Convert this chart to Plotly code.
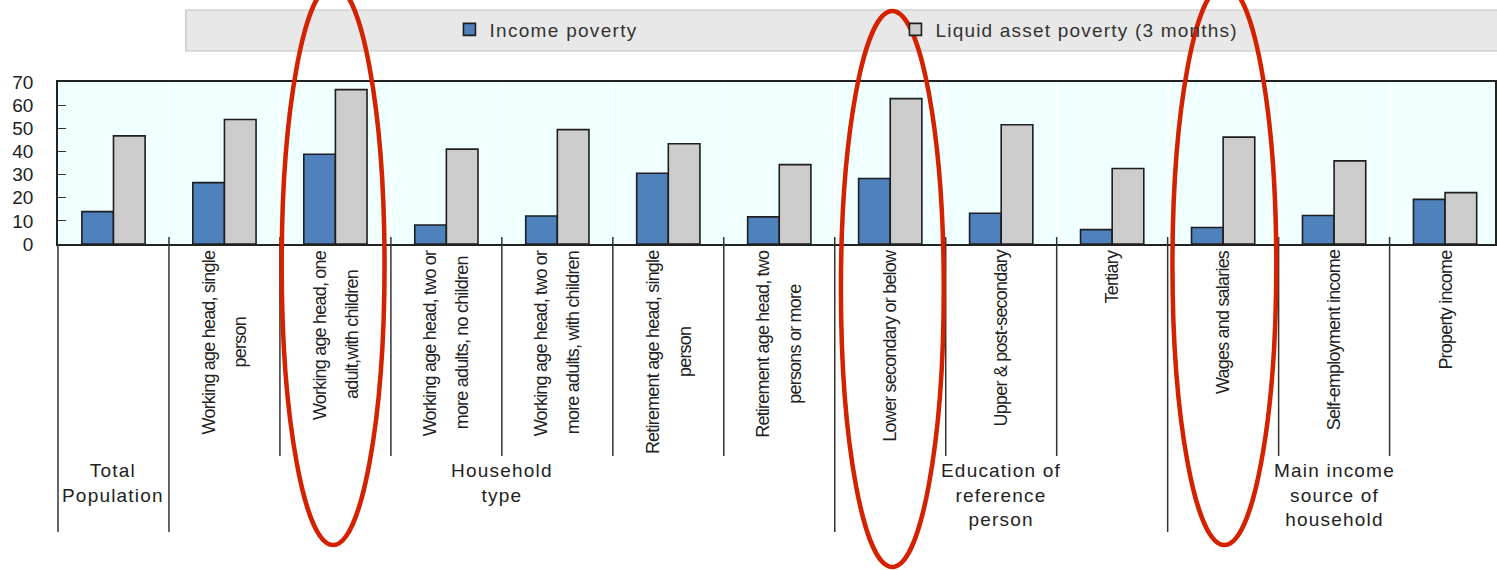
import plotly.graph_objects as go

# ---- data -------------------------------------------------------------
category_labels = [
    "",
    "Working age head, single<br>person",
    "Working age head, one<br>adult,with children",
    "Working age head, two or<br>more adults, no children",
    "Working age head, two or<br>more adults, with children",
    "Retirement age head, single<br>person",
    "Retirement age head, two<br>persons or more",
    "Lower secondary or below",
    "Upper & post-secondary",
    "Tertiary",
    "Wages and salaries",
    "Self-employment income",
    "Property income",
]
category_keys = [f"c{i}" for i in range(len(category_labels))]

income_poverty = [14.0, 26.5, 38.8, 8.2, 12.1, 30.6, 11.7, 28.3, 13.3, 6.2, 7.1, 12.3, 19.3]
liquid_asset_poverty = [46.7, 53.8, 66.7, 41.0, 49.4, 43.3, 34.3, 62.8, 51.5, 32.6, 46.2, 35.9, 22.2]

group_labels = ["Total<br>Population", "Household<br>type",
                "Education of<br>reference<br>person",
                "Main income<br>source of<br>household"]
group_first = [0, 1, 7, 10]
group_last = [0, 6, 9, 12]

highlighted = [2, 7, 10]

series_names = ["Income poverty", "Liquid asset poverty (3 months)"]
y_ticks = [0, 10, 20, 30, 40, 50, 60, 70]

# ---- layout geometry ----------------------------------------------------
W, H = 1497, 570
M_L, M_R, M_T, M_B = 58, 0, 82, 326
PLOT_W = W - M_L - M_R
PLOT_H = H - M_T - M_B
X_RANGE = [-0.5, 12.45]
CAT_PX = PLOT_W / (X_RANGE[1] - X_RANGE[0])


def px_x(p):
    return (p - M_L) / PLOT_W


def px_y(p):
    return (M_T + PLOT_H - p) / PLOT_H


def bx(b):
    return (b - X_RANGE[0]) / (X_RANGE[1] - X_RANGE[0])


def spaced(s, sp):
    return "<br>".join(f'<span style="letter-spacing:{sp}px">{ln}</span>' for ln in s.split("<br>"))


# approximate Arial advance widths (per mille em), used for centring rotated lines
AW = {c: 556 for c in "abdeghnopqu0123456789"}
AW.update({c: 500 for c in "cksvxyz"})
AW.update({"f": 278, "t": 278, "i": 222, "j": 222, "l": 222, "r": 333, "m": 833, "w": 722,
           " ": 278, ",": 278, "-": 333, "&": 667, "W": 944, "L": 556, "R": 722,
           "S": 667, "T": 611, "U": 722, "P": 667})

ROT_FONT = "Liberation Sans, Arial, sans-serif"
ROT_SIZE = 18
ROT_LS = -0.8  # tight tracking for the condensed category captions


def text_len(s):
    return sum(AW.get(c, 556) for c in s) / 1000 * ROT_SIZE + len(s) * ROT_LS


fig = go.Figure()
fig.add_trace(go.Bar(
    x=category_keys, y=income_poverty,
    name=spaced(series_names[0], 1.3),
    marker=dict(color="#4F81BD", line=dict(color="#1E1E1E", width=1.6)),
))
fig.add_trace(go.Bar(
    x=category_keys, y=liquid_asset_poverty,
    name=spaced(series_names[1], 1.2),
    marker=dict(color="#CCCCCC", line=dict(color="#1E1E1E", width=1.6)),
))

shapes = []
annotations = []

# legend panel
shapes.append(dict(type="rect", xref="paper", yref="paper",
                   x0=px_x(186), x1=px_x(1510), y0=px_y(51), y1=px_y(10),
                   fillcolor="#E8E8E8", line=dict(color="#C2C2C2", width=1.2),
                   layer="below"))

# separators under the axis: long ones between groups, short ones inside groups
group_bounds = set([g - 0.5 for g in group_first] + [group_last[-1] + 0.5])
for k in range(len(category_labels) + 1):
    b = k - 0.5
    if b > X_RANGE[1]:
        continue
    long_line = b in group_bounds
    top = 244 if k == 0 else 237
    bottom = 532 if long_line else 456
    shapes.append(dict(type="line", xref="paper", yref="paper",
                       x0=bx(b), x1=bx(b), y0=px_y(top), y1=px_y(bottom),
                       line=dict(color="#333333", width=1.5)))

# rotated category labels
for i, lab in enumerate(category_labels):
    if not lab:
        continue
    lines = lab.split("<br>")
    longest = max(text_len(ln) for ln in lines)
    cy = 250 + longest / 2
    n = len(lines)
    for k, ln in enumerate(lines):
        off = (k - (n - 1) / 2) * 32 / CAT_PX
        annotations.append(dict(
            x=i + off, y=px_y(cy), xref="x", yref="paper",
            text=f'<span style="letter-spacing:{ROT_LS}px">{ln}</span>',
            textangle=-90, showarrow=False,
            xanchor="center", yanchor="middle",
            font=dict(family=ROT_FONT, size=ROT_SIZE, color="#222222"),
        ))

# group labels
for lab, a, b in zip(group_labels, group_first, group_last):
    annotations.append(dict(
        x=(a + b) / 2, y=px_y(458), xref="x", yref="paper",
        text=spaced(lab, 1.2), showarrow=False, align="center",
        xanchor="center", yanchor="top",
        font=dict(family="Liberation Sans, Arial, sans-serif", size=19, color="#222222"),
    ))

# highlight ellipses around selected categories
ell_px = {2: (282, 385, -15, 545), 7: (842, 945, 11, 567), 10: (1174, 1278, -15, 545)}
for i in highlighted:
    x0, x1, y0, y1 = ell_px[i]
    shapes.append(dict(type="circle", xref="paper", yref="paper",
                       x0=px_x(x0), x1=px_x(x1), y0=px_y(y1), y1=px_y(y0),
                       line=dict(color="#D42100", width=4.5)))

fig.update_layout(
    width=W, height=H,
    margin=dict(l=M_L, r=M_R, t=M_T, b=M_B, pad=0),
    paper_bgcolor="white",
    plot_bgcolor="#F0FFFF",
    barmode="group", bargap=0.43, bargroupgap=0,
    font=dict(family="Liberation Sans, Arial, sans-serif", size=19, color="#222222"),
    showlegend=True,
    legend=dict(orientation="h", x=px_x(450), xanchor="left", y=px_y(29.5), yanchor="middle",
                bgcolor="rgba(0,0,0,0)", borderwidth=0,
                entrywidth=401, entrywidthmode="pixels",
                font=dict(family="Liberation Sans, Arial, sans-serif", size=19, color="#333333")),
    xaxis=dict(type="category", range=X_RANGE, showticklabels=False, ticks="",
               tickson="boundaries", showgrid=True, gridcolor="white", gridwidth=1.5,
               showline=True, linecolor="#222222", linewidth=1.5, mirror=True,
               zeroline=False, fixedrange=True),
    yaxis=dict(range=[0, 70], tickvals=y_ticks, ticks="inside", ticklen=8,
               tickcolor="#333333", tickwidth=1.3, showgrid=False, zeroline=False,
               showline=True, linecolor="#222222", linewidth=1.5, mirror=True,
               ticklabelstandoff=19,
               tickfont=dict(family="Liberation Sans, Arial, sans-serif", size=19, color="#222222")),
    shapes=shapes,
    annotations=annotations,
)

fig.write_html("out.html")
